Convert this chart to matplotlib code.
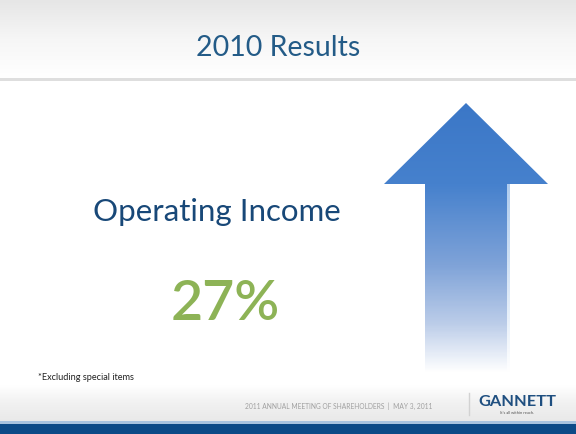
import numpy as np
import matplotlib
matplotlib.use("Agg")
import matplotlib.pyplot as plt
from matplotlib.patches import Polygon, Rectangle
from matplotlib.colors import LinearSegmentedColormap

# ---- content ----
title = "2010 Results"
metric_label = "Operating Income"
metric_value = 27  # percent growth
footnote = "*Excluding special items"
footer_text = "2011 ANNUAL MEETING OF SHAREHOLDERS  |  MAY 3, 2011"
brand = "GANNETT"
tagline = "It's all within reach."

W, H = 576, 434
fig = plt.figure(figsize=(W / 100, H / 100), dpi=100)
ax = fig.add_axes([0, 0, 1, 1])
ax.set_xlim(0, W)
ax.set_ylim(H, 0)
ax.axis("off")
FONT = "Lato"

# top header gradient
grad = np.linspace(0, 1, 100).reshape(-1, 1)
cm_top = LinearSegmentedColormap.from_list("top", ["#e6e6e6", "#f6f6f6", "#ffffff"])
ax.imshow(grad, cmap=cm_top, extent=[0, W, 78, 0], aspect="auto", zorder=0)
ax.add_patch(Rectangle((0, 78), W, 2.5, color="#dedede", lw=0, zorder=1))

# footer band
cm_bot = LinearSegmentedColormap.from_list("bot", ["#ffffff", "#f1f1f1", "#e9e9e9"])
ax.imshow(grad, cmap=cm_bot, extent=[0, W, 421, 385], aspect="auto", zorder=0)
ax.add_patch(Rectangle((0, 421), W, 3, color="#a8c3df", lw=0, zorder=1))
ax.add_patch(Rectangle((0, 424), W, 10, color="#0c4a87", lw=0, zorder=1))

# arrow with vertical gradient
tip_y, head_y, bottom_y = 103, 184, 373
cx, head_half, shaft_half = 466, 82, 41
verts = [(cx, tip_y), (cx + head_half, head_y), (cx + shaft_half, head_y),
         (cx + shaft_half, bottom_y), (cx - shaft_half, bottom_y),
         (cx - shaft_half, head_y), (cx - head_half, head_y)]
arrow = Polygon(verts, closed=True, facecolor="none", edgecolor="none")
ax.add_patch(arrow)
cm_arrow = LinearSegmentedColormap.from_list(
    "arr", [(0.0, "#3b77c7"), (0.30, "#4681cd"), (0.60, "#7fa3d8"),
            (0.82, "#bccde9"), (1.0, "#ffffff")])
ag = np.linspace(0, 1, 300).reshape(-1, 1)
im = ax.imshow(ag, cmap=cm_arrow, extent=[cx - head_half, cx + head_half, bottom_y, tip_y],
               aspect="auto", zorder=2)
im.set_clip_path(arrow)
# faint shadow on right side of shaft
cm_sh = LinearSegmentedColormap.from_list("sh", ["#9cc0ea", "#ffffff"])
ims = ax.imshow(ag, cmap=cm_sh, extent=[cx + shaft_half, cx + shaft_half + 3, bottom_y, head_y],
                aspect="auto", zorder=2, alpha=0.8)

# texts
ax.text(278, 48, title, ha="center", va="center", fontsize=20.5, color="#235b87",
        family=FONT, zorder=3)
ax.text(217, 212, metric_label, ha="center", va="center", fontsize=22.5, color="#184878",
        family=FONT, zorder=3)
ax.text(225, 304, f"{metric_value}%", ha="center", va="center", fontsize=40, color="#8db356",
        family=FONT, fontweight="semibold", zorder=3)
ax.text(38, 377, footnote, ha="left", va="center", fontsize=6.6, color="#222222",
        family=FONT, zorder=3)
ax.text(432, 406, footer_text, ha="right", va="center", fontsize=4.8, color="#a0a0a0",
        family=FONT, zorder=3)
ax.plot([469, 469], [393, 415], color="#d2d2d2", lw=1, zorder=3)
ax.text(517, 402, brand, ha="center", va="center", fontsize=11.8, color="#1f4f80",
        family=FONT, fontweight="bold", zorder=3)
ax.text(517, 413, tagline, ha="center", va="center", fontsize=3, color="#555555",
        family=FONT, zorder=3)

fig.savefig("out.png", dpi=100)
